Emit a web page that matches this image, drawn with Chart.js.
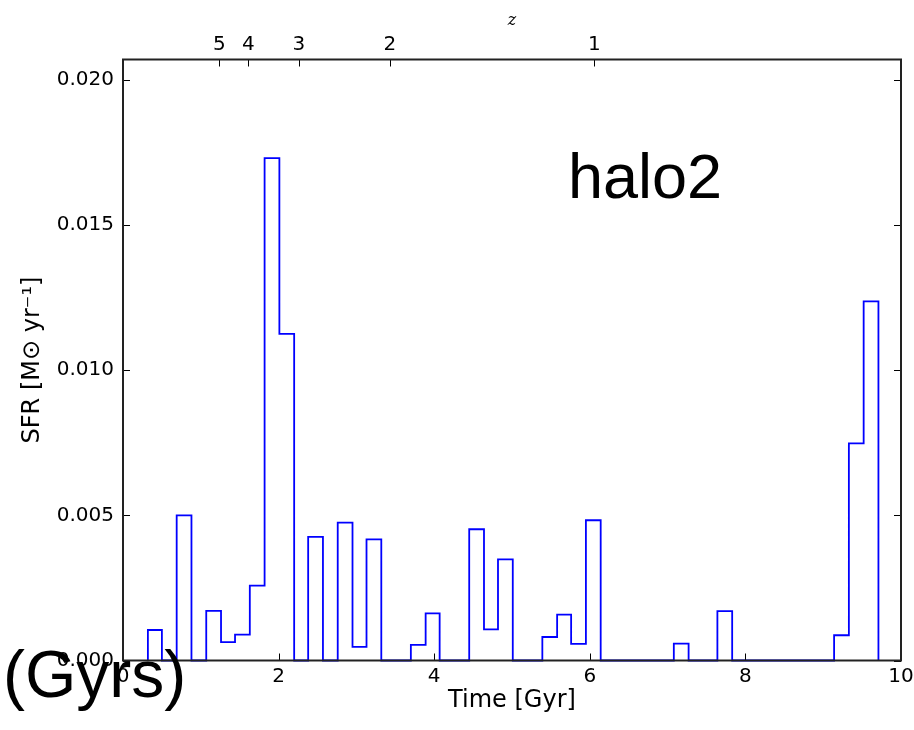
<!DOCTYPE html>
<html>
<head>
<meta charset="utf-8">
<script src="https://cdn.jsdelivr.net/npm/chart.js@4.4.1/dist/chart.umd.min.js"></script>
<style>
  html, body { margin: 0; padding: 0; background: #fff; }
  #wrap { position: relative; width: 914px; height: 730px; overflow: hidden; }
  #sfr-chart { position: absolute; left: 0; top: 0; }
  .note { position: absolute; font-family: "Liberation Sans", Arial, sans-serif; color: #000; line-height: 1; white-space: nowrap; }
  #halo-label { left: 568px; top: 145px; font-size: 63px; }
  #unit-label { left: 3px; top: 641px; font-size: 66px; }
</style>
</head>
<body>
<div id="wrap">
  <canvas id="sfr-chart" width="914" height="730"></canvas>
  <div class="note" id="halo-label">halo2</div>
  <div class="note" id="unit-label">(Gyrs)</div>
</div>
<script>
// bin edges (Gyr) of the step histogram
const timeEdges = [0.32, 0.50, 0.69, 0.88, 1.07, 1.26, 1.44, 1.63, 1.82, 2.01,
  2.20, 2.38, 2.57, 2.76, 2.95, 3.13, 3.32, 3.51, 3.70, 3.89,
  4.07, 4.26, 4.45, 4.64, 4.82, 5.01, 5.20, 5.39, 5.58, 5.76,
  5.95, 6.14, 6.33, 6.51, 6.70, 6.89, 7.08, 7.27, 7.45, 7.64,
  7.83, 8.02, 8.20, 8.39, 8.58, 8.77, 8.96, 9.14, 9.33, 9.52, 9.71];

// SFR per bin (Msun / yr)
const sfrValues = [0.00105, 0, 0.00500, 0, 0.00171, 0.00063, 0.00089, 0.00258, 0.01730, 0.01125,
  0, 0.00426, 0, 0.00475, 0.00047, 0.00417, 0, 0, 0.00054, 0.00162,
  0, 0, 0.00452, 0.00107, 0.00348, 0, 0, 0.00081, 0.00158, 0.00057,
  0.00483, 0, 0, 0, 0, 0, 0.00058, 0, 0, 0.00170,
  0, 0, 0, 0, 0, 0, 0, 0.00087, 0.00748, 0.01237];

const timeTicks = [0, 2, 4, 6, 8, 10];
const sfrTicks = [0, 0.005, 0.010, 0.015, 0.020];
// redshift ticks on the top axis
const zTickTimes = [1.237, 1.61, 2.26, 3.43, 6.06];
const zTickLabels = ['5', '4', '3', '2', '1'];

const TICK_LEN = 7;
const tickFont = { family: 'DejaVu Sans', size: 20 };
const titleFont = { family: 'DejaVu Sans', size: 24 };

(function () {
  const outline = [{ x: timeEdges[0], y: 0 }];
  sfrValues.forEach((v, i) => outline.push({ x: timeEdges[i], y: v }));
  outline.push({ x: timeEdges[timeEdges.length - 1], y: 0 });

  // matplotlib-like inward ticks and frame, drawn over the data
  const frameTicks = {
    id: 'frameTicks',
    afterDatasetsDraw(chart) {
      const { ctx, chartArea: { left, right, top, bottom }, scales } = chart;
      ctx.save();
      ctx.strokeStyle = '#000';
      ctx.lineWidth = 1;
      ctx.beginPath();
      timeTicks.forEach((v) => {
        const px = Math.round(scales.x.getPixelForValue(v)) + 0.5;
        ctx.moveTo(px, bottom); ctx.lineTo(px, bottom - TICK_LEN);
      });
      zTickTimes.forEach((v) => {
        const px = Math.round(scales.x2.getPixelForValue(v)) + 0.5;
        ctx.moveTo(px, top); ctx.lineTo(px, top + TICK_LEN);
      });
      sfrTicks.forEach((v) => {
        const py = Math.round(scales.y.getPixelForValue(v)) + 0.5;
        ctx.moveTo(left, py); ctx.lineTo(left + TICK_LEN, py);
        ctx.moveTo(right, py); ctx.lineTo(right - TICK_LEN, py);
      });
      ctx.stroke();
      ctx.strokeStyle = '#222';
      ctx.lineWidth = 2;
      ctx.strokeRect(left, top, right - left, bottom - top);
      ctx.restore();
    },
  };

  // keep the plot box fixed, whatever the tick labels need
  const fixWidth = (h) => (s) => { s.height = h; s.paddingLeft = 0; s.paddingRight = 0; };

  const ctx = document.getElementById('sfr-chart');
  new Chart(ctx, {
    type: 'line',
    data: {
      datasets: [{
        data: outline,
        borderColor: '#0000ff',
        borderWidth: 1.8,
        pointRadius: 0,
        fill: false,
        stepped: 'before',
        tension: 0,
        clip: false,
      }],
    },
    options: {
      responsive: false,
      animation: false,
      layout: { padding: { left: 0, right: 13, top: 0, bottom: 0 } },
      plugins: { legend: { display: false }, tooltip: { enabled: false } },
      scales: {
        x: {
          type: 'linear',
          position: 'bottom',
          min: 0,
          max: 10,
          grid: { display: false, drawTicks: false },
          border: { display: false },
          afterBuildTicks: (s) => { s.ticks = timeTicks.map((v) => ({ value: v })); },
          afterFit: fixWidth(69.5),
          ticks: { font: tickFont, color: '#000', padding: 4, maxRotation: 0, autoSkip: false },
          title: {
            display: true, text: 'Time [Gyr]', color: '#000',
            font: titleFont, padding: { top: 0, bottom: 15 },
          },
        },
        x2: {
          type: 'linear',
          position: 'top',
          min: 0,
          max: 10,
          grid: { display: false, drawTicks: false },
          border: { display: false },
          afterBuildTicks: (s) => { s.ticks = zTickTimes.map((v) => ({ value: v })); },
          afterFit: fixWidth(59.5),
          ticks: {
            font: tickFont, color: '#000', padding: 3, maxRotation: 0, autoSkip: false,
            callback: (value, index) => zTickLabels[index],
          },
          title: {
            display: true, text: 'z', color: '#000',
            font: { family: 'DejaVu Serif', size: 16, style: 'italic' }, padding: { top: 11, bottom: 0 },
          },
        },
        y: {
          type: 'linear',
          position: 'left',
          min: 0,
          max: 0.0207,
          grid: { display: false, drawTicks: false },
          border: { display: false },
          afterBuildTicks: (s) => { s.ticks = sfrTicks.map((v) => ({ value: v })); },
          afterFit: (s) => { s.width = 123; s.paddingTop = 0; s.paddingBottom = 0; },
          ticks: { font: tickFont, color: '#000', padding: 9, callback: (v) => v.toFixed(3) },
          title: {
            display: true, text: 'SFR [M\u2299 yr\u207B\u00B9]', color: '#000',
            font: titleFont, padding: { top: 18, bottom: 0 },
          },
        },
      },
    },
    plugins: [frameTicks],
  });
})();
</script>
</body>
</html>
